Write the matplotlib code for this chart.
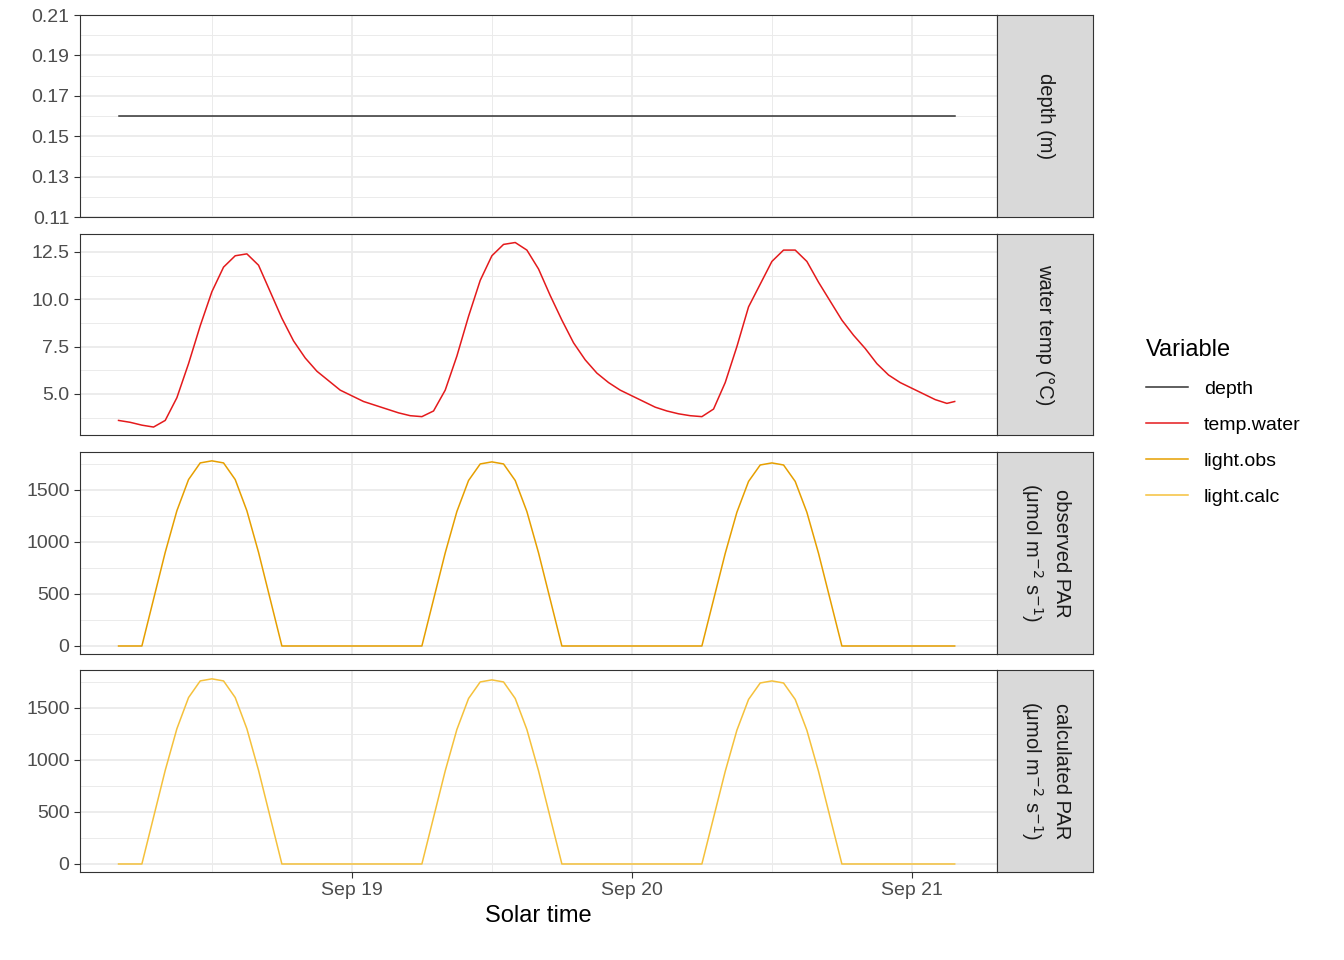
import numpy as np
import matplotlib
matplotlib.use("Agg")
import matplotlib.pyplot as plt
from matplotlib.lines import Line2D

plt.rcParams['font.family'] = ['Liberation Sans', 'DejaVu Sans']

# hourly data starting Sep 18 04:00 (hours relative to Sep 19 00:00)
depth_val = 0.16
temp = [3.6,3.5,3.35,3.25,3.6,4.8,6.6,8.6,10.4,11.7,12.3,12.4,11.8,10.4,9.0,7.8,6.9,6.2,5.7,5.2,
        4.9,4.6,4.4,4.2,4.0,3.85,3.8,4.1,5.2,7.0,9.1,11.0,12.3,12.9,13.0,12.6,11.6,10.2,8.9,7.7,6.8,6.1,5.6,5.2,
        4.9,4.6,4.3,4.1,3.95,3.85,3.8,4.2,5.6,7.5,9.6,10.8,12.0,12.6,12.6,12.0,10.9,9.9,8.9,8.1,7.4,6.6,6.0,5.6,
        5.3,5.0,4.7,4.5,4.6]
light_day = [0,0,0,450,900,1300,1600,1760,1780,1760,1600,1300,900,450,0,0,0,0,0,0,0,0,0,0]  # from 04:00
light_peaks = [1780,1770,1760]
hours = np.arange(len(temp), dtype=float) - 20.0
hours[-1] = hours[-2] + 0.67
light_obs = []
for p in light_peaks:
    light_obs += [v * p / 1780 for v in light_day]
light_obs.append(0)
light_obs = np.array(light_obs)
light_calc = light_obs.copy()
days = hours / 24.0

W, H = 1344, 960
fig = plt.figure(figsize=(W/100, H/100), dpi=100)
panels = [(15, 217), (234, 435), (452, 654), (670, 872)]
labels = ["depth (m)", "water temp (°C)",
          "observed PAR\n(μmol m$^{-2}$ s$^{-1}$)", "calculated PAR\n(μmol m$^{-2}$ s$^{-1}$)"]
cols = ["#333333", "#E41A1C", "#E69F00", "#F5C13C"]
series = [np.full_like(days, depth_val), np.array(temp), light_obs, light_calc]
ylims = [(0.11, 0.21), (2.83, 13.45), (-77, 1865), (-77, 1865)]
yticks = [np.arange(0.11, 0.2101, 0.02), [5, 7.5, 10, 12.5], [0, 500, 1000, 1500], [0, 500, 1000, 1500]]
yfmt = [lambda v: f"{v:.2f}", lambda v: f"{v:.1f}", lambda v: f"{v:g}", lambda v: f"{v:g}"]
yminor = [np.arange(0.12, 0.21, 0.02), [3.75, 6.25, 8.75, 11.25], [250, 750, 1250, 1750], [250, 750, 1250, 1750]]

for i, (t, b) in enumerate(panels):
    ax = fig.add_axes([80/W, 1-b/H, 917/W, (b-t)/H])
    ax.plot(days, series[i], color=cols[i], lw=1.1)
    ax.set_xlim(-0.971, 2.304)
    ax.set_ylim(*ylims[i])
    ax.set_yticks(yticks[i])
    ax.set_yticklabels([yfmt[i](v) for v in yticks[i]])
    ax.set_yticks(yminor[i], minor=True)
    ax.set_xticks([0, 1, 2])
    ax.set_xticks([-0.5, 0.5, 1.5], minor=True)
    ax.grid(which="major", color="#EBEBEB", lw=1.3)
    ax.grid(which="minor", color="#EBEBEB", lw=0.7)
    ax.set_axisbelow(True)
    ax.tick_params(which="minor", length=0)
    ax.tick_params(which="major", length=4, color="#333333", labelsize=14, labelcolor="#4D4D4D")
    for s in ax.spines.values():
        s.set_color("#333333"); s.set_linewidth(0.8)
    if i < 3:
        ax.set_xticklabels([])
        ax.tick_params(axis="x", length=0)
    else:
        ax.set_xticklabels(["Sep 19", "Sep 20", "Sep 21"])
        ax.set_xlabel("Solar time", fontsize=17, labelpad=4)
    sa = fig.add_axes([997/W, 1-b/H, 96/W, (b-t)/H])
    sa.set_facecolor("#D9D9D9")
    sa.set_xticks([]); sa.set_yticks([])
    for s in sa.spines.values():
        s.set_color("#333333"); s.set_linewidth(0.8)
    sa.text(0.5, 0.5, labels[i], rotation=-90, ha="center", va="center",
            fontsize=14.5, color="#1A1A1A", transform=sa.transAxes, linespacing=1.4)

handles = [Line2D([], [], color=c, lw=1.1) for c in cols]
fig.legend(handles, ["depth", "temp.water", "light.obs", "light.calc"], title="Variable",
           loc="upper left", bbox_to_anchor=(1128/W, 1-322/H), frameon=False,
           fontsize=14, title_fontsize=17, handlelength=2.2, labelspacing=0.95,
           alignment="left")
fig.savefig("out.png", dpi=100)
